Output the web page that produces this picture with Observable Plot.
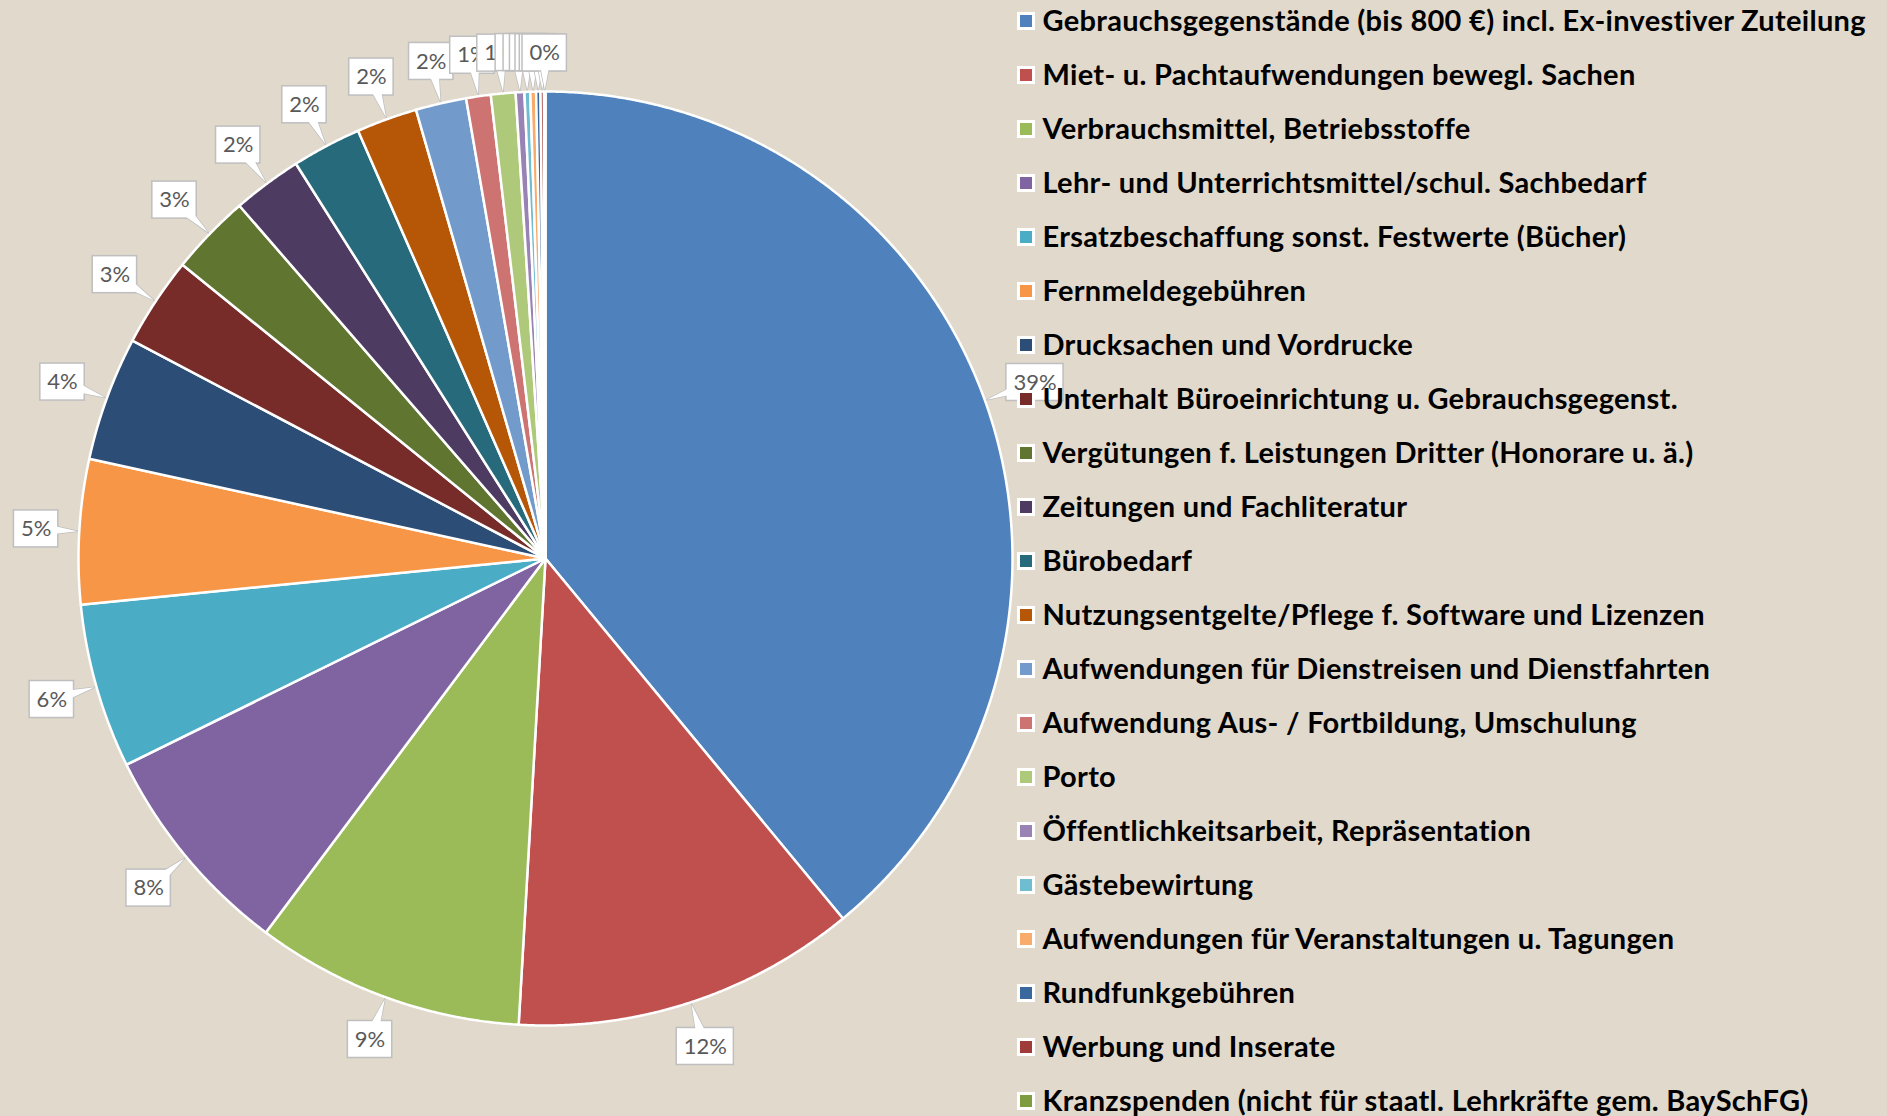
<!DOCTYPE html>
<html><head><meta charset="utf-8">
<script src="https://cdn.jsdelivr.net/npm/d3@7"></script>
<script src="https://cdn.jsdelivr.net/npm/@observablehq/plot@0.6"></script>
<style>html,body{margin:0;padding:0;background:#E0D9CC;overflow:hidden}</style>
</head><body><div id="chart"></div>
<script>
// ---- data ----
const categories = [
  "Gebrauchsgegenstände (bis 800 €) incl. Ex-investiver Zuteilung",
  "Miet- u. Pachtaufwendungen bewegl. Sachen",
  "Verbrauchsmittel, Betriebsstoffe",
  "Lehr- und Unterrichtsmittel/schul. Sachbedarf",
  "Ersatzbeschaffung sonst. Festwerte (Bücher)",
  "Fernmeldegebühren",
  "Drucksachen und Vordrucke",
  "Unterhalt Büroeinrichtung u. Gebrauchsgegenst.",
  "Vergütungen f. Leistungen Dritter (Honorare u. ä.)",
  "Zeitungen und Fachliteratur",
  "Bürobedarf",
  "Nutzungsentgelte/Pflege f. Software und Lizenzen",
  "Aufwendungen für Dienstreisen und Dienstfahrten",
  "Aufwendung Aus- / Fortbildung, Umschulung",
  "Porto",
  "Öffentlichkeitsarbeit, Repräsentation",
  "Gästebewirtung",
  "Aufwendungen für Veranstaltungen u. Tagungen",
  "Rundfunkgebühren",
  "Werbung und Inserate",
  "Kranzspenden (nicht für staatl. Lehrkräfte gem. BaySchFG)"
];
const values = [39.0, 11.9, 9.3, 7.5, 5.7, 5.0, 4.3, 3.1, 2.8, 2.4, 2.4, 2.1, 1.75, 0.85, 0.85, 0.3, 0.2, 0.2, 0.15, 0.12, 0.05];
const colors = ["#4F81BD","#C0504D","#9BBB59","#8064A2","#4BACC6","#F79646","#2C4D75","#772C2A","#5F7530","#4D3B62","#276A7C","#B65708","#729ACA","#CD7371","#AFC97A","#9983B5","#6FBDD1","#F9AB6B","#3A679C","#9F3B38","#7E9C40"];

// ---- layout ----
const W = 1887, H = 1116, CX = 545, CY = 558, R = 467;
const LABEL_FONT = "Lato, 'Open Sans', sans-serif";
const LEGEND_FONT = "Lato, 'Open Sans', sans-serif";
const LABEL_SIZE = 22, LEGEND_SIZE = 29;
const LX = 1017, LY0 = 21, LSTEP = 54;

const ctx = document.createElement("canvas").getContext("2d");
const tw = (t, f) => { ctx.font = f; return ctx.measureText(t).width; };

const total = d3.sum(values);
let cum = 0;
const slices = categories.map((c, i) => {
  const a0 = cum / total * 2 * Math.PI; cum += values[i];
  const a1 = cum / total * 2 * Math.PI;
  return {c, i, a0, a1, pct: Math.round(values[i] / total * 100)};
});
const pt = (a, r) => ({x: CX + r * Math.sin(a), y: CY - r * Math.cos(a)});

const slicePts = slices.flatMap(s => {
  const n = Math.max(2, Math.ceil((s.a1 - s.a0) / 0.004));
  const arr = [{...pt(0, 0), i: s.i}];
  for (let k = 0; k <= n; k++) arr.push({...pt(s.a0 + (s.a1 - s.a0) * k / n, R), i: s.i});
  arr.push({...pt(0, 0), i: s.i});
  return arr;
});

const labels = slices.map(s => {
  const m = (s.a0 + s.a1) / 2;
  const text = s.pct + "%";
  const hw = (tw(text, `${LABEL_SIZE}px ${LABEL_FONT}`) + 14) / 2, hh = 18.5;
  const ext = Math.abs(Math.sin(m)) * hw + Math.abs(Math.cos(m)) * hh;
  const c = pt(m, R + 20 + ext);
  const tip = pt(m, R + 2);
  const px = Math.cos(m), py = Math.sin(m);
  const tri = [tip, {x: c.x + px * 7, y: c.y + py * 7}, {x: c.x - px * 7, y: c.y - py * 7}, tip];
  return {i: s.i, text, x: c.x, y: c.y, x1: c.x - hw, x2: c.x + hw, y1: c.y - hh, y2: c.y + hh, tri};
});

const marks = [
  Plot.line(slicePts, {x: "x", y: "y", z: "i", fill: d => colors[d.i], stroke: "white", strokeWidth: 2.5, strokeLinejoin: "round", curve: "linear"})
];
for (const L of labels) {
  marks.push(Plot.line(L.tri, {x: "x", y: "y", fill: "white", stroke: "#BFBFBF", strokeWidth: 1.5, curve: "linear"}));
  marks.push(Plot.rect([L], {x1: "x1", x2: "x2", y1: "y1", y2: "y2", fill: "white", stroke: "#BFBFBF", strokeWidth: 1.5}));
  marks.push(Plot.line(L.tri, {x: "x", y: "y", fill: "white", stroke: "none", curve: "linear"}));
  marks.push(Plot.text([L], {x: "x", y: "y", text: "text", fontSize: LABEL_SIZE, fontFamily: LABEL_FONT, fill: "#595959"}));
}
const legend = categories.map((c, i) => ({c, i, y: LY0 + LSTEP * i}));
marks.push(Plot.rect(legend, {x1: LX, x2: LX + 18, y1: d => d.y - 9, y2: d => d.y + 9, fill: "white"}));
marks.push(Plot.rect(legend, {x1: LX + 3, x2: LX + 15, y1: d => d.y - 6, y2: d => d.y + 6, fill: d => colors[d.i]}));
marks.push(Plot.text(legend, {x: LX + 25, y: "y", text: "c", textAnchor: "start", fontSize: LEGEND_SIZE, fontWeight: "bold", fontFamily: LEGEND_FONT, fill: "black"}));

const chart = Plot.plot({
  width: W, height: H, margin: 0,
  x: {domain: [0, W], range: [0, W], axis: null},
  y: {domain: [0, H], range: [0, H], axis: null},
  color: {type: "identity"},
  style: {background: "#E0D9CC", overflow: "visible"},
  marks
});
d3.select(chart).selectAll("g[font-weight='bold']").attr("letter-spacing", "0.3px");
document.getElementById("chart").appendChild(chart);
</script></body></html>
